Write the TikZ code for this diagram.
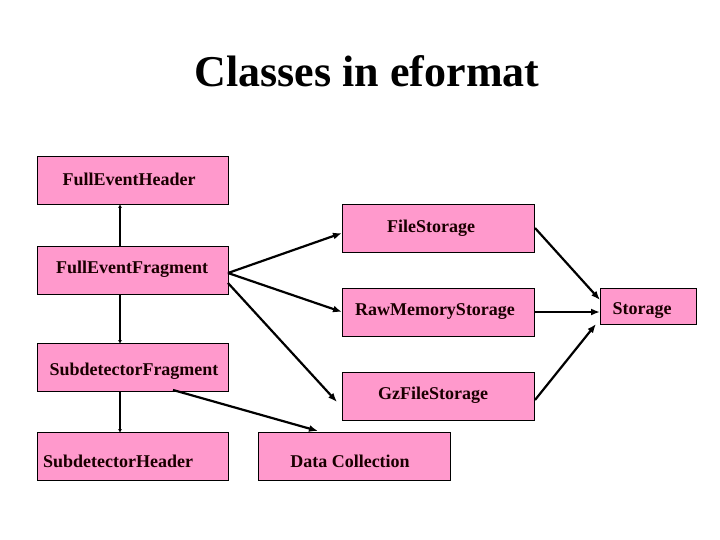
\documentclass[tikz,border=0pt]{standalone}
\usepackage{fontspec}
\setmainfont{Liberation Serif}
\usetikzlibrary{arrows.meta}
\definecolor{boxpink}{HTML}{FF99CC}
\begin{document}
\begin{tikzpicture}[x=1pt,y=-1pt,
  box/.style={draw=black,line width=1pt,fill=boxpink,inner sep=0pt,anchor=north west},
  lbl/.style={font=\fontsize{18}{18}\selectfont\bfseries,text=black!90!red,inner sep=0pt},
  conn/.style={line width=2.2pt,-{Latex[length=9pt,width=7pt]}},
  vconn/.style={line width=2.2pt,-{Latex[length=4pt,width=4pt]}}]
\useasboundingbox (0,0) rectangle (720,540);
\node[font=\fontsize{44}{44}\selectfont\bfseries,inner sep=0pt] (title) at (367,71) {Classes in eformat};
% boxes
\node[box,minimum width=191pt,minimum height=48pt] (feh) at (37,156) {};
\node[box,minimum width=192pt,minimum height=48pt] (fs) at (342,204) {};
\node[box,minimum width=191pt,minimum height=48pt] (fef) at (37,246) {};
\node[box,minimum width=192pt,minimum height=48pt] (rms) at (342,288) {};
\node[box,minimum width=96pt,minimum height=36pt] (st) at (600,288) {};
\node[box,minimum width=191pt,minimum height=48pt] (sdf) at (37,343) {};
\node[box,minimum width=192pt,minimum height=48pt] (gzs) at (342,372) {};
\node[box,minimum width=191pt,minimum height=48pt] (sdh) at (37,432) {};
\node[box,minimum width=192pt,minimum height=48pt] (dc) at (258,432) {};
% labels
\node[lbl] (lfeh) at (129,179) {FullEventHeader};
\node[lbl] (lfs) at (431,228) {FileStorage};
\node[lbl] (lfef) at (132,269) {FullEventFragment};
\node[lbl] (lrms) at (435,312) {RawMemoryStorage};
\node[lbl] (lst) at (642,311) {Storage};
\node[lbl] (lsdf) at (134,371) {SubdetectorFragment};
\node[lbl] (lgzs) at (433,395) {GzFileStorage};
\node[lbl] (lsdh) at (118,461) {SubdetectorHeader};
\node[lbl] (ldc) at (350,461) {Data Collection};
% anchor points
\coordinate (fefR1) at (228,273);
\coordinate (fefR2) at (228,283);
\coordinate (gzEnd) at (337,402);
\coordinate (sdfOut) at (173,390);
\coordinate (dcIn) at (318,431);
\coordinate (stA) at (600,300);
\coordinate (stC) at (596,324);
% vertical connectors
\draw[vconn] (fef.north west) ++(83,0) -- ++(0,-42);
\draw[vconn] (fef.south west) ++(83,0) -- ++(0,49);
\draw[vconn] (sdf.south west) ++(83,0) -- ++(0,41);
% fragment to storages
\draw[conn] (fefR1) -- (fs.west|-0,233);
\draw[conn] (fefR1) -- (rms.west|-0,312);
\draw[conn] (fefR2) -- (gzEnd);
\draw[conn] (sdfOut) -- (dcIn);
% storages to Storage
\draw[conn] (fs.east|-0,228) -- (stA);
\draw[conn] (rms.east|-0,312) -- (st.west|-0,312);
\draw[conn] (gzs.east|-0,400) -- (stC);
\end{tikzpicture}
\end{document}
